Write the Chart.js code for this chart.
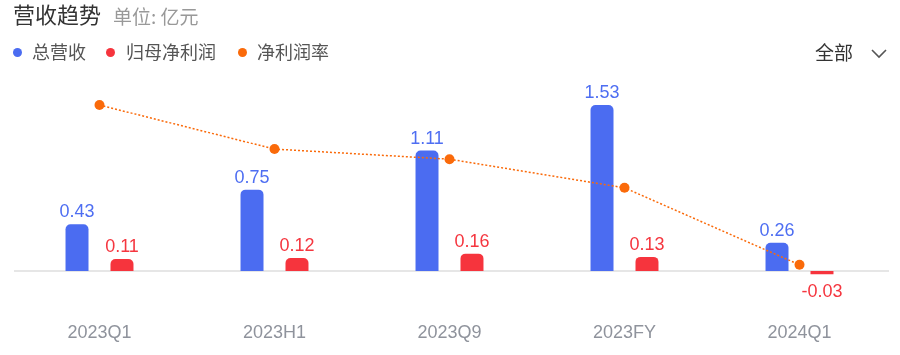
<!DOCTYPE html>
<html>
<head>
<meta charset="utf-8">
<script src="https://cdn.jsdelivr.net/npm/chart.js@4.4.1/dist/chart.umd.min.js"></script>
<style>
  body { margin: 0; background: #fff; font-family: "Noto Sans CJK SC", "Liberation Sans", sans-serif; }
  #wrap { position: relative; width: 900px; height: 355px; overflow: hidden; }
  #chart-box { position: absolute; left: 0; top: 0; width: 900px; height: 355px; }
  .txt { position: absolute; white-space: nowrap; }
  .title { left: 13px; top: 2px; font-size: 22px; line-height: 22px; color: #333; }
  .unit { left: 113px; top: 6px; font-size: 19px; line-height: 19px; color: #999; }
  .legend-item { position: absolute; top: 42px; font-size: 18px; line-height: 18px; color: #555; }
  .dot { position: absolute; width: 9px; height: 9px; border-radius: 50%; top: 48px; }
  .period { left: 815px; top: 42px; font-size: 19px; line-height: 19px; color: #333; }
</style>
</head>
<body>
<div id="wrap">
  <div id="chart-box"><canvas id="trend-chart" width="900" height="355"></canvas></div>
  <div class="txt title">营收趋势</div>
  <div class="txt unit">单位: 亿元</div>
  <div class="dot" style="left:13px; background:#4b6cf1;"></div>
  <div class="legend-item" style="left:32px;">总营收</div>
  <div class="dot" style="left:106px; background:#f6343d;"></div>
  <div class="legend-item" style="left:126px;">归母净利润</div>
  <div class="dot" style="left:238px; background:#fa6a0a;"></div>
  <div class="legend-item" style="left:257px;">净利润率</div>
  <div class="txt period">全部</div>
  <svg style="position:absolute; left:870px; top:47px;" width="20" height="14">
    <polyline points="2,3 9,10 16,3" fill="none" stroke="#555" stroke-width="1.6"/>
  </svg>
</div>
<script>
const categories = ["2023Q1", "2023H1", "2023Q9", "2023FY", "2024Q1"];
const revenue = [0.43, 0.75, 1.11, 1.53, 0.26];
const netProfit = [0.11, 0.12, 0.16, 0.13, -0.03];
const netMargin = [24.3, 14.3, 12.0, 5.5, -12.0];

const BLUE = "#4b6cf1";
const RED = "#f6343d";
const ORANGE = "#fa6a0a";

// zero line under the bars
const zeroLinePlugin = {
    id: "zeroLine",
    beforeDatasetsDraw(chart) {
        const { ctx, chartArea } = chart;
        const y = Math.round(chart.scales.y.getPixelForValue(0));
        ctx.save();
        ctx.strokeStyle = "#e6e6e6";
        ctx.lineWidth = 2;
        ctx.beginPath();
        ctx.moveTo(chartArea.left + 2, y);
        ctx.lineTo(chartArea.right + 2, y);
        ctx.stroke();
        ctx.restore();
    }
};

// value labels above / below each bar
const barLabelPlugin = {
    id: "barLabels",
    afterDatasetsDraw(chart) {
        const { ctx } = chart;
        ctx.save();
        ctx.font = '18px "Liberation Sans", Arial, sans-serif';
        ctx.textAlign = "center";
        ctx.textBaseline = "alphabetic";
        chart.data.datasets.forEach((ds, i) => {
            if (ds.type === "line") return;
            const meta = chart.getDatasetMeta(i);
            ctx.fillStyle = ds.labelColor;
            meta.data.forEach((bar, j) => {
                const v = ds.data[j];
                const y = v >= 0 ? bar.y - 7 : bar.y + 23;
                ctx.fillText(v.toFixed(2), bar.x, y);
            });
        });
        ctx.restore();
    }
};

new Chart(document.getElementById("trend-chart"), {
    type: "bar",
    data: {
        labels: categories,
        datasets: [
            {
                label: "总营收",
                data: revenue,
                backgroundColor: BLUE,
                labelColor: "#4e6ef2",
                borderRadius: { topLeft: 5, topRight: 5 },
                borderSkipped: "start",
                barPercentage: 0.511,
                categoryPercentage: 0.514,
                order: 1
            },
            {
                label: "归母净利润",
                data: netProfit,
                backgroundColor: RED,
                labelColor: "#f5363f",
                borderRadius: { topLeft: 5, topRight: 5 },
                borderSkipped: "start",
                barPercentage: 0.511,
                categoryPercentage: 0.514,
                order: 1
            },
            {
                type: "line",
                label: "净利润率",
                data: netMargin,
                yAxisID: "y2",
                borderColor: ORANGE,
                borderWidth: 1.5,
                borderDash: [2, 2],
                pointRadius: 5,
                pointBackgroundColor: ORANGE,
                pointBorderWidth: 0,
                pointHoverRadius: 5,
                tension: 0,
                order: 0
            }
        ]
    },
    options: {
        responsive: false,
        animation: false,
        layout: { padding: { left: 12, right: 13, top: 80, bottom: 0 } },
        plugins: {
            legend: { display: false },
            tooltip: { enabled: false }
        },
        scales: {
            x: {
                grid: { display: false, drawTicks: false },
                border: { display: false },
                afterFit(scale) { scale.height = 55; },
                ticks: {
                    padding: 22,
                    color: "#8f939c",
                    font: { family: '"Liberation Sans", Arial, sans-serif', size: 18 }
                }
            },
            y: {
                display: false,
                min: -0.2673,
                max: 1.7604
            },
            y2: {
                display: false,
                position: "right",
                min: -20,
                max: 30
            }
        }
    },
    plugins: [zeroLinePlugin, barLabelPlugin]
});
</script>
</body>
</html>
